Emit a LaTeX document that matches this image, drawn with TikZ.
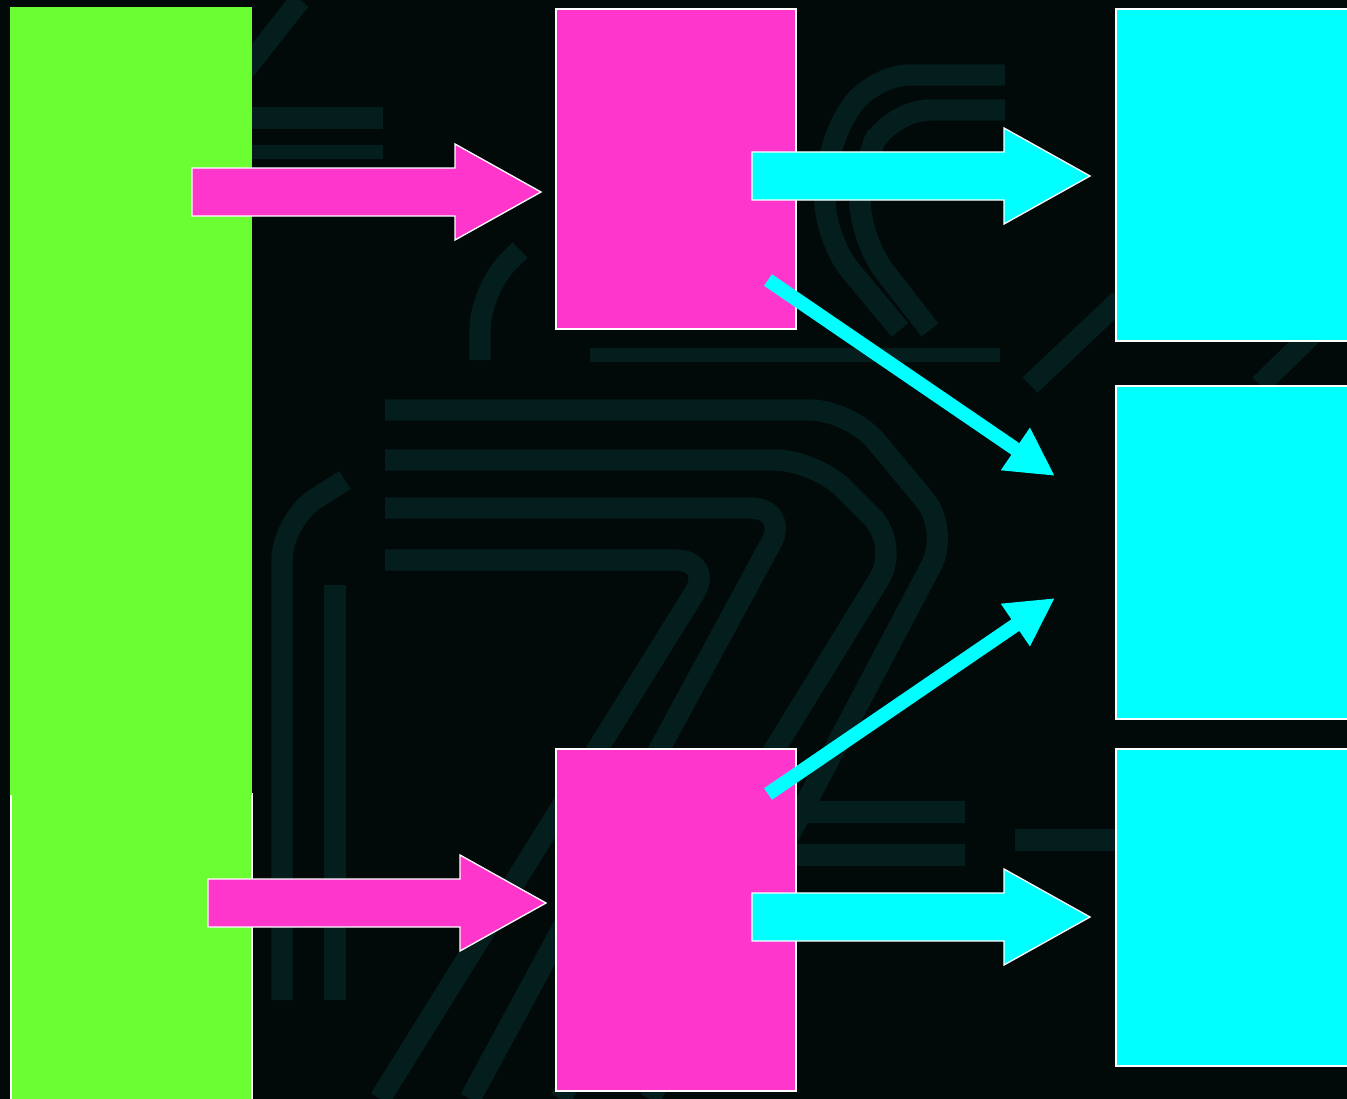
\documentclass[tikz,border=0pt]{standalone}
\usepackage{xcolor}
\usetikzlibrary{calc,arrows.meta}
\definecolor{bgdark}{HTML}{010909}
\definecolor{bgtrace}{HTML}{041D1D}
\definecolor{limegreen}{HTML}{6BFF33}
\definecolor{hotpink}{HTML}{FF36CC}
\definecolor{aqua}{HTML}{00FFFF}

\tikzset{
	box/.style={rectangle, inner sep=0pt, anchor=north west},
	greenbox/.style={box, fill=limegreen},
	pinkbox/.style={box, fill=hotpink, draw=white, line width=1.3pt},
	aquabox/.style={box, fill=aqua, draw=white, line width=1.3pt},
	trace/.style={draw=bgtrace, line width=16pt, rounded corners=30pt},
	pinkarrow/.style={fill=hotpink, draw=white, line width=1pt},
	aquaarrow/.style={fill=aqua, draw=white, line width=1pt},
	slantarrow/.style={draw=aqua, line width=10.5pt, -{Triangle[length=36pt,width=36pt]}}
}

% block arrow from tail (#2) to tip (#3)
\newcommand{\blockarrow}[3]{%
	\draw[#1] ($(#2)+(0,-24)$) -- ($(#3)+(-86,-24)$) -- ($(#3)+(-86,-48)$) -- (#3)
		-- ($(#3)+(-86,48)$) -- ($(#3)+(-86,24)$) -- ($(#2)+(0,24)$) -- cycle;}

\begin{document}
\begin{tikzpicture}[x=0.75pt,y=0.75pt,yscale=-1,xscale=1]
		\useasboundingbox (0,0) rectangle (1347,1099);
		\clip (0,0) rectangle (1347,1099);
		\fill[bgdark] (0,0) rectangle (1347,1099);

		% circuit traces in the background
		\draw[trace] (245,70) -- (300,0);
		\draw[trace] (252,118) -- (383,118);
		\draw[trace, line width=11pt] (252,152) -- (383,152);
		\draw[trace] (1005,75) -- (870,75) -- (825,150) -- (825,240) -- (900,330);
		\draw[trace] (1005,110) -- (890,110) -- (860,170) -- (860,240) -- (930,330);
		\draw[trace] (480,360) -- (480,290) -- (520,250);
		\draw[trace, line width=11pt] (590,355) -- (1000,355);
		\draw[trace] (385,410) -- (850,410) -- (950,530) -- (650,1099);
		\draw[trace] (385,460) -- (815,460) -- (900,545) -- (560,1099);
		\draw[trace] (385,508) -- (790,508) -- (470,1099);
		\draw[trace] (385,560) -- (715,560) -- (380,1099);
		\draw[trace] (282,1000) -- (282,520) -- (345,480);
		\draw[trace] (335,1000) -- (335,585);
		\draw[trace] (795,812) -- (965,812);
		\draw[trace] (795,855) -- (965,855);
		\draw[trace] (1015,840) -- (1115,840);
		\draw[trace] (1030,385) -- (1120,300);
		\draw[trace] (1260,385) -- (1347,300);

		% boxes
		\node[greenbox, draw=white, line width=1.3pt, minimum width=180.75pt, minimum height=240pt] (green2) at (10,793) {};
		\node[greenbox, minimum width=181.5pt, minimum height=591pt] (green1) at (10,7) {};
		\node[pinkbox, minimum width=180pt, minimum height=240pt] (pink1) at (555,8) {};
		\node[pinkbox, minimum width=180pt, minimum height=256.5pt] (pink2) at (555,748) {};
		\node[aquabox, minimum width=190pt, minimum height=249pt] (aqua1) at (1115,8) {};
		\node[aquabox, minimum width=190pt, minimum height=249.75pt] (aqua2) at (1115,385) {};
		\node[aquabox, minimum width=190pt, minimum height=237.75pt] (aqua3) at (1115,748) {};

		% arrows
		\coordinate (pa1) at (192,192);
		\coordinate (pa1tip) at (541,192);
		\coordinate (pa2) at (208,903);
		\coordinate (pa2tip) at (546,903);
		\coordinate (aa1) at (752,176);
		\coordinate (aa1tip) at (1090,176);
		\coordinate (aa2) at (752,917);
		\coordinate (aa2tip) at (1090,917);
		\blockarrow{pinkarrow}{pa1}{pa1tip}
		\blockarrow{pinkarrow}{pa2}{pa2tip}
		\blockarrow{aquaarrow}{aa1}{aa1tip}
		\blockarrow{aquaarrow}{aa2}{aa2tip}

		\coordinate (sa1) at (768,280);
		\coordinate (sa1tip) at (1055,476);
		\coordinate (sa2) at (768,794);
		\coordinate (sa2tip) at (1055,598);
		\draw[slantarrow] (sa1) -- (sa1tip);
		\draw[slantarrow] (sa2) -- (sa2tip);
\end{tikzpicture}
\end{document}
